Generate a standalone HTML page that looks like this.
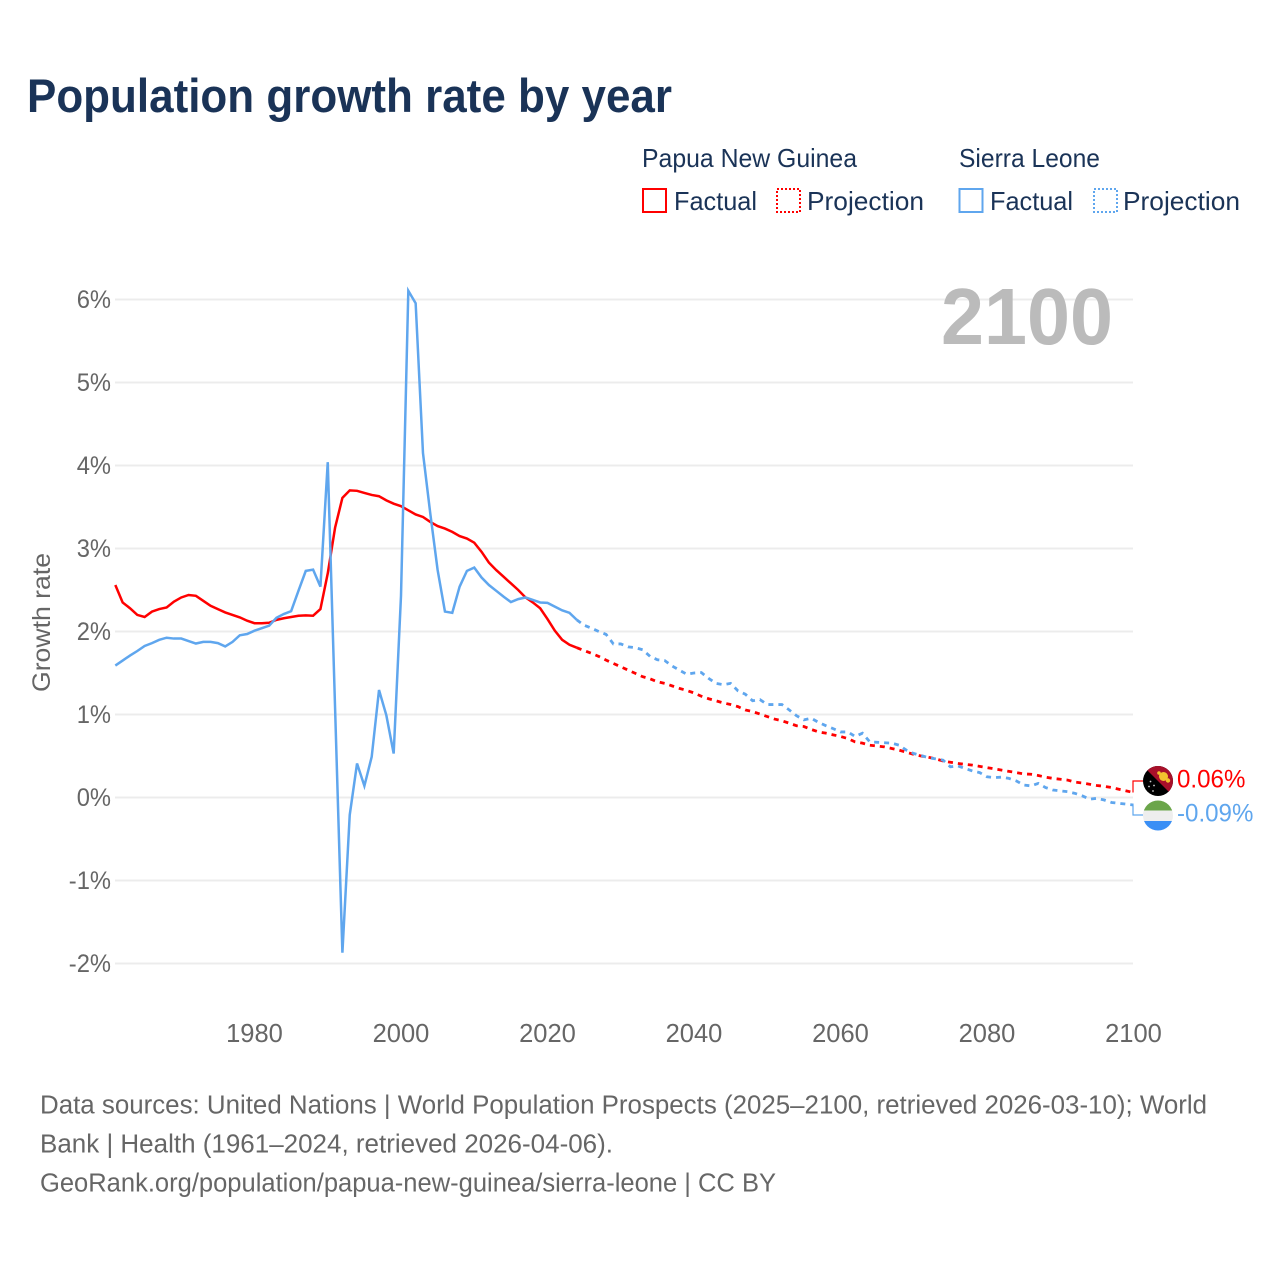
<!DOCTYPE html>
<html lang="en">
<head>
<meta charset="utf-8">
<title>Population growth rate by year</title>
<style>
html,body{margin:0;padding:0;background:#fff;}
svg{display:block;font-family:"Liberation Sans",sans-serif;}
</style>
</head>
<body>
<svg id="chart" width="1280" height="1280" viewBox="0 0 1280 1280" xmlns="http://www.w3.org/2000/svg">
  <rect width="1280" height="1280" fill="#fff"/>
  <text x="27" y="112" font-size="47" font-weight="700" fill="#1a3357" textLength="645" lengthAdjust="spacingAndGlyphs">Population growth rate by year</text>

  <g font-size="26" fill="#1a3357">
    <text x="642" y="167" textLength="215" lengthAdjust="spacingAndGlyphs">Papua New Guinea</text>
    <text x="959" y="167" textLength="141" lengthAdjust="spacingAndGlyphs">Sierra Leone</text>
    <rect x="643" y="189" width="23" height="23" fill="none" stroke="#ff0000" stroke-width="2"/>
    <text x="674" y="210" textLength="83" lengthAdjust="spacingAndGlyphs">Factual</text>
    <rect x="777" y="189" width="23" height="23" fill="none" stroke="#ff0000" stroke-width="2" stroke-dasharray="2 2"/>
    <text x="807" y="210" textLength="117" lengthAdjust="spacingAndGlyphs">Projection</text>
    <rect x="959.5" y="189" width="23" height="23" fill="none" stroke="#5fa6ee" stroke-width="2"/>
    <text x="990" y="210" textLength="83" lengthAdjust="spacingAndGlyphs">Factual</text>
    <rect x="1094" y="189" width="23" height="23" fill="none" stroke="#5fa6ee" stroke-width="2" stroke-dasharray="2 2"/>
    <text x="1123" y="210" textLength="117" lengthAdjust="spacingAndGlyphs">Projection</text>
  </g>

  <g id="grid"></g>
  <g id="yticks" font-size="25" fill="#666"></g>
  <g id="xticks" font-size="25.5" fill="#666"></g>
  <text transform="translate(50,622.5) rotate(-90)" text-anchor="middle" font-size="25" fill="#666" textLength="139" lengthAdjust="spacingAndGlyphs">Growth rate</text>
  <text x="941" y="344" font-size="80" font-weight="700" fill="#bbbbbb" textLength="172" lengthAdjust="spacingAndGlyphs">2100</text>

  <g id="series" fill="none" stroke-width="2.5"></g>
  <g id="ends"></g>

  <defs>
    <clipPath id="flag-clip-png"><circle cx="1158" cy="781" r="15"/></clipPath>
    <clipPath id="flag-clip-sl"><circle cx="1158" cy="815.5" r="15"/></clipPath>
  </defs>
  <g clip-path="url(#flag-clip-png)">
    <rect x="1143" y="766" width="30" height="30" fill="#000"/>
    <polygon points="1143,766 1173,766 1173,796" fill="#a8102a"/>
    <circle cx="1163.5" cy="776.5" r="4.5" fill="#f2c22e"/>
    <circle cx="1168" cy="780.5" r="2.2" fill="#f2c22e"/>
    <circle cx="1159" cy="773" r="1.8" fill="#f2c22e"/>
    <circle cx="1150.5" cy="781.5" r="0.9" fill="#ccc"/>
    <circle cx="1154" cy="785.5" r="0.9" fill="#ccc"/>
    <circle cx="1149" cy="786.5" r="0.9" fill="#ccc"/>
    <circle cx="1153" cy="791" r="0.9" fill="#ccc"/>
  </g>
  <g clip-path="url(#flag-clip-sl)">
    <rect x="1143" y="800" width="30" height="10.5" fill="#6ba54a"/>
    <rect x="1143" y="810.5" width="30" height="10.5" fill="#eeeeee"/>
    <rect x="1143" y="821" width="30" height="10.5" fill="#3a8ff5"/>
  </g>

  <g font-size="25.5" fill="#666">
    <text x="40" y="1113.5" textLength="1167" lengthAdjust="spacingAndGlyphs">Data sources: United Nations | World Population Prospects (2025–2100, retrieved 2026-03-10); World</text>
    <text x="40" y="1152.5" textLength="573" lengthAdjust="spacingAndGlyphs">Bank | Health (1961–2024, retrieved 2026-04-06).</text>
    <text x="40" y="1191.5" textLength="736" lengthAdjust="spacingAndGlyphs">GeoRank.org/population/papua-new-guinea/sierra-leone | CC BY</text>
  </g>
</svg>
<script>
const factualStartYear = 1961;
const projectionStartYear = 2025;
const xTickYears = [1980, 2000, 2020, 2040, 2060, 2080, 2100];
const yTickValues = [-2, -1, 0, 1, 2, 3, 4, 5, 6];
const pngFactual = [
  2.56,2.35,2.28,2.20,2.175,2.24,2.27,2.29,2.36,
  2.41,2.44,2.43,2.37,2.31,2.27,2.23,2.20,2.17,2.13,
  2.10,2.10,2.105,2.14,2.16,2.175,2.19,2.195,2.19,2.27,
  2.70,3.25,3.61,3.70,3.695,3.67,3.645,3.63,3.58,3.54,
  3.51,3.46,3.41,3.38,3.32,3.27,3.24,3.20,3.15,3.12,
  3.07,2.96,2.83,2.74,2.66,2.58,2.50,2.41,2.35,2.28,
  2.15,2.01,1.90,1.84,1.805
];
const pngProjection = [
  1.77,1.737,1.70,1.655,1.615,
  1.575,1.535,1.495,1.455,1.43,1.395,1.375,1.345,1.315,1.29,
  1.26,1.22,1.19,1.165,1.14,1.12,1.095,1.055,1.035,1.005,
  0.975,0.945,0.925,0.895,0.865,0.855,0.82,0.79,0.775,0.755,
  0.735,0.71,0.67,0.655,0.63,0.62,0.61,0.59,0.57,0.545,
  0.52,0.50,0.485,0.465,0.44,0.425,0.41,0.40,0.39,0.375,
  0.36,0.345,0.33,0.315,0.30,0.285,0.28,0.265,0.245,0.23,
  0.22,0.21,0.185,0.175,0.16,0.145,0.135,0.12,0.10,0.08,
  0.06
];
const slFactual = [
  1.59,1.65,1.71,1.765,1.825,1.86,1.90,1.925,1.915,
  1.915,1.885,1.855,1.875,1.875,1.86,1.82,1.875,1.955,1.97,
  2.01,2.04,2.07,2.165,2.21,2.245,2.49,2.73,2.745,2.54,
  4.04,1.08,-1.87,-0.21,0.41,0.14,0.49,1.295,0.99,0.53,
  2.43,6.105,5.955,4.15,3.42,2.74,2.24,2.225,2.54,2.73,
  2.77,2.65,2.56,2.49,2.42,2.355,2.39,2.41,2.38,2.35,
  2.345,2.30,2.255,2.225,2.14
];
const slProjection = [
  2.075,2.04,2.0,1.965,1.85,
  1.85,1.815,1.805,1.78,1.70,1.66,1.65,1.585,1.535,1.485,
  1.50,1.505,1.435,1.375,1.36,1.375,1.285,1.245,1.165,1.18,
  1.12,1.12,1.12,1.055,0.985,0.935,0.955,0.905,0.865,0.83,
  0.79,0.79,0.735,0.775,0.67,0.665,0.66,0.655,0.63,0.57,
  0.53,0.505,0.48,0.465,0.45,0.37,0.38,0.35,0.32,0.30,
  0.25,0.24,0.245,0.23,0.20,0.15,0.14,0.17,0.12,0.09,
  0.08,0.07,0.05,0.02,-0.02,-0.01,-0.03,-0.06,-0.07,-0.08,
  -0.09
];
const endLabelTexts = ["0.06%", "-0.09%"];

const RED = "#ff0000";
const BLUE = "#5fa6ee";
const NS = "http://www.w3.org/2000/svg";
function xScale(year) { return 1133.5 - (2100 - year) * 7.325; }
function yScale(value) { return 797.5 - value * 83; }
function make(tag, parent) { const el = document.createElementNS(NS, tag); parent.appendChild(el); return el; }
function linePath(startYear, values) {
  return values.map(function (v, i) {
    return (i ? "L" : "M") + xScale(startYear + i).toFixed(2) + " " + yScale(v).toFixed(2);
  }).join("");
}

const gridGroup = document.getElementById("grid");
const yTickGroup = document.getElementById("yticks");
yTickValues.forEach(function (v) {
  const line = make("line", gridGroup);
  
  
  line.setAttribute("x1", 115);
  line.setAttribute("x2", 1133);
  line.setAttribute("y1", yScale(v));
  line.setAttribute("y2", yScale(v));
  line.setAttribute("stroke", "#ececec");
  line.setAttribute("stroke-width", 2);
  const t = make("text", yTickGroup);
  
  
  t.setAttribute("x", 111);
  t.setAttribute("y", yScale(v) + 8.5);
  t.setAttribute("text-anchor", "end");
  t.textContent = v + "%";
  t.setAttribute("textLength", (t.getComputedTextLength() * 0.95).toFixed(1));
  t.setAttribute("lengthAdjust", "spacingAndGlyphs");
});

const xTickGroup = document.getElementById("xticks");
xTickYears.forEach(function (year) {
  const t = make("text", xTickGroup);
  
  
  t.setAttribute("x", xScale(year));
  t.setAttribute("y", 1042);
  t.setAttribute("text-anchor", "middle");
  t.textContent = year;
});

const seriesGroup = document.getElementById("series");
function drawSolid(name, values, color) {
  const p = make("path", seriesGroup);
  
  
  p.setAttribute("d", linePath(factualStartYear, values));
  p.setAttribute("stroke", color);
}
function drawDashed(name, factual, values, color) {
  const p = make("path", seriesGroup);
  
  
  p.setAttribute("d", linePath(projectionStartYear - 1, [factual[factual.length - 1]].concat(values)));
  p.setAttribute("stroke", color);
  p.setAttribute("stroke-width", 2.8);
  p.setAttribute("stroke-dasharray", "5 5");
}
drawSolid('line-papua-new-guinea-factual', pngFactual, RED);
drawDashed('line-papua-new-guinea-projection', pngFactual, pngProjection, RED);
drawSolid('line-sierra-leone-factual', slFactual, BLUE);
drawDashed('line-sierra-leone-projection', slFactual, slProjection, BLUE);

const endGroup = document.getElementById("ends");
function drawEnd(name, lastValue, labelY, textY, text, color) {
  const c = make("path", endGroup);
  
  
  c.setAttribute("d", "M1133 " + yScale(lastValue).toFixed(1) + "V" + labelY + "H1143");
  c.setAttribute("fill", "none");
  c.setAttribute("stroke", color);
  c.setAttribute("stroke-width", 1.2);
  const t = make("text", endGroup);
  
  
  t.setAttribute("x", 1177);
  t.setAttribute("y", textY);
  t.setAttribute("font-size", 25);
  t.setAttribute("fill", color);
  t.textContent = text;
  t.setAttribute("textLength", (t.getComputedTextLength() * 0.965).toFixed(1));
  t.setAttribute("lengthAdjust", "spacingAndGlyphs");
}
drawEnd('papua-new-guinea', pngProjection[pngProjection.length - 1], 781, 787.5, endLabelTexts[0], RED);
drawEnd('sierra-leone', slProjection[slProjection.length - 1], 815, 821.5, endLabelTexts[1], BLUE);
</script>
</body>
</html>
